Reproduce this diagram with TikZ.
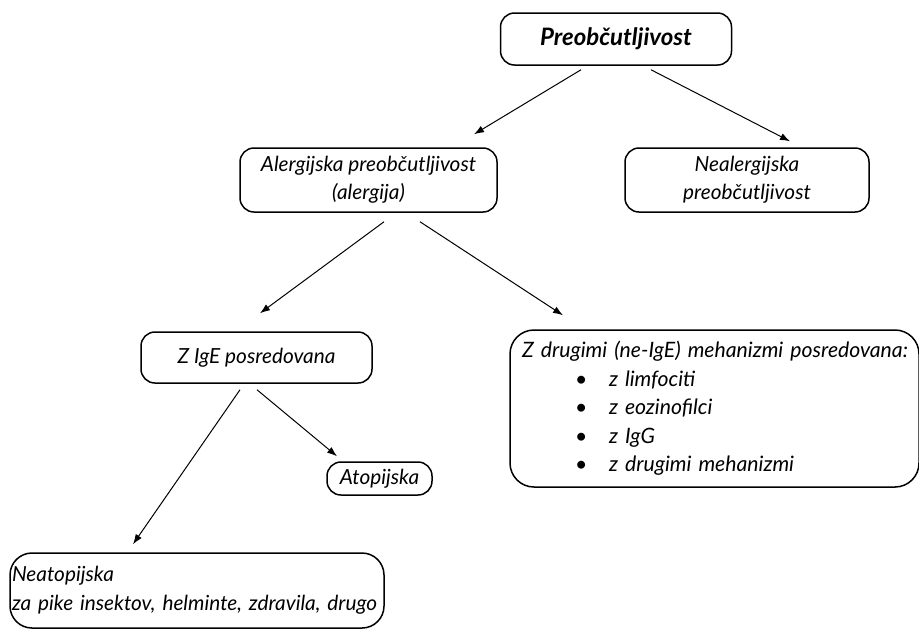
\documentclass[tikz,border=0pt]{standalone}
\usepackage{fontspec}
\setmainfont{Lato}
\usetikzlibrary{arrows.meta,calc}
\tikzset{
  okvir/.style={draw=black, line width=0.75pt, rounded corners=7pt, align=center,
                font=\fontsize{10.4}{13.8}\selectfont\itshape, inner sep=2pt},
  puscica/.style={-{Latex[length=5pt,width=3.6pt]}, line width=0.5pt, black},
}
\newcommand{\alinea}[1]{\hspace*{26.5pt}\makebox[17pt][l]{\upshape\textbullet}#1}

\begin{document}
\begin{tikzpicture}[x=0.5pt,y=-0.5pt]
  \useasboundingbox (0,0) rectangle (919,629);

  % vrh
  \node[okvir, minimum width=115.5pt, minimum height=26pt,
        font=\fontsize{12}{14}\selectfont\bfseries\itshape] (preob) at (616,39) {Preobčutljivost};

  % nivo 1
  \node[okvir, minimum width=128.5pt, minimum height=32pt] (alerg) at (368.5,180)
    {Alergijska preobčutljivost\\(alergija)};
  \node[okvir, minimum width=122pt, minimum height=32pt] (nealerg) at (747,180)
    {Nealergijska\\preobčutljivost};

  % nivo 2
  \node[okvir, minimum width=115.5pt, minimum height=25.5pt] (ige) at (256.5,357.5) {Z IgE posredovana};
  \node[okvir, rounded corners=12pt, minimum width=204.5pt, minimum height=78.5pt,
        text width=192.5pt, align=left, inner xsep=6pt, font=\fontsize{10.6}{14.3}\selectfont\itshape]
        (drugi) at (714.5,408.5)
    {\makebox[192.5pt][l]{Z drugimi (ne-IgE) mehanizmi posredovana:}\\
     \alinea{z limfociti}\\
     \alinea{z eozinofilci}\\
     \alinea{z IgG}\\
     \alinea{z drugimi mehanizmi}};

  % nivo 3
  \node[okvir, minimum width=52.5pt, minimum height=16.5pt, inner sep=1pt] (atop) at (379.5,478.5) {Atopijska};
  \node[okvir, rounded corners=11pt, minimum width=187pt, minimum height=37.5pt,
        text width=185pt, align=left, inner xsep=1pt, font=\fontsize{10.4}{14.5}\selectfont\itshape]
        (neatop) at (197,590.5)
    {Neatopijska\\za pike insektov, helminte, zdravila, drugo};

  % puscice
  \draw[puscica] ($(preob.south)+(-35,4)$) -- ($(alerg.north)+(105.5,-13)$);
  \draw[puscica] ($(preob.south)+(35,4)$) -- ($(nealerg.north)+(43,-6)$);
  \draw[puscica] ($(alerg.south)+(15.5,9)$) -- ($(ige.north)+(3.5,-18)$);
  \draw[puscica] ($(alerg.south)+(51.5,9)$) -- ($(drugi.north)+(-151.5,-14)$);
  \draw[puscica] ($(ige.south)+(-16.5,6)$) -- ($(neatop.north)+(-64,-8)$);
  \draw[puscica] ($(ige.south)+(0.5,6)$) -- ($(atop.north)+(-42.5,-5)$);
\end{tikzpicture}
\end{document}
